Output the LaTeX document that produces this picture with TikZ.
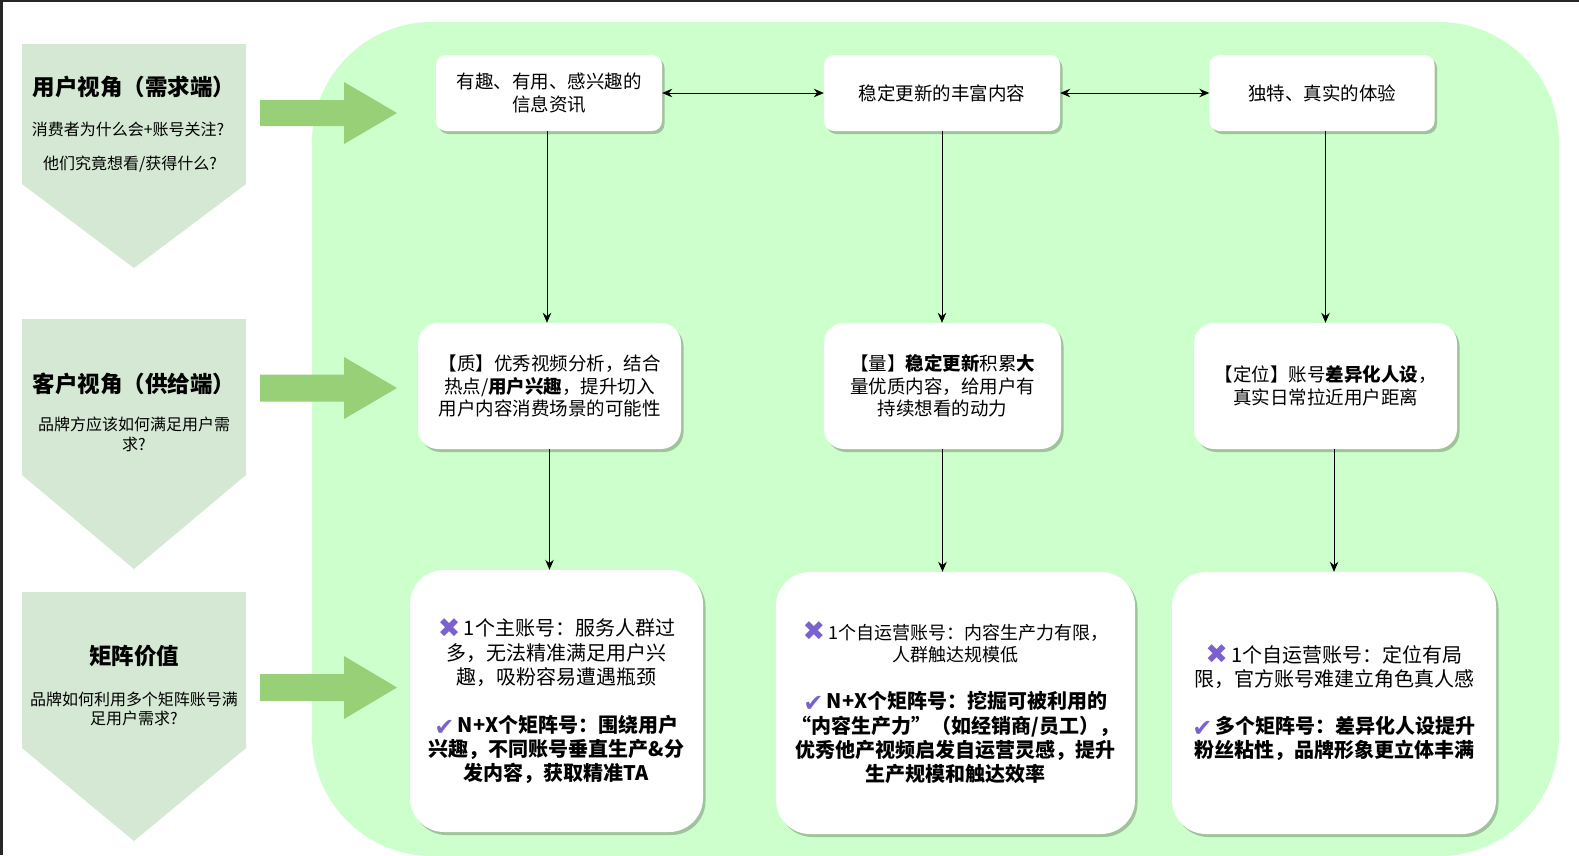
\documentclass[tikz,border=0pt]{standalone}
\usepackage{fontspec}
\setmainfont{Noto Sans CJK SC}
\newfontfamily\symfont{DejaVu Sans}
\usetikzlibrary{arrows.meta,shadows}
\definecolor{bigbg}{HTML}{CCFFCC}
\definecolor{panelc}{HTML}{D5E8D4}
\definecolor{garrow}{HTML}{97D077}
\definecolor{shadowc}{HTML}{9FC49B}
\definecolor{markc}{HTML}{7B61CF}
\newcommand{\myX}{{\symfont\fontsize{27}{27}\selectfont\color{markc}\raisebox{-1.5pt}{✖}}}
\newcommand{\myV}{{\symfont\fontsize{24}{24}\selectfont\color{markc}\raisebox{-3pt}{✔}}}
\tikzset{
  boxbase/.style={fill=white, draw=none, inner sep=0pt, align=center,
    drop shadow={shadow xshift=2.5pt, shadow yshift=-3pt, fill=shadowc, opacity=1}},
  topbox/.style={boxbase, rounded corners=10pt, minimum height=76pt,
    font=\fontsize{18.5}{22.4}\selectfont},
  midbox/.style={boxbase, rounded corners=20pt, minimum height=126pt,
    font=\fontsize{18.5}{22.6}\selectfont},
  lowbox/.style={boxbase, rounded corners=34pt, minimum height=262pt},
  conn/.style={line width=1pt, -{Stealth[length=10pt,width=8.5pt]}},
  dconn/.style={line width=1pt, {Stealth[length=10pt,width=8.5pt]}-{Stealth[length=10pt,width=8.5pt]}},
  ptitle/.style={font=\fontsize{22.5}{26}\selectfont\bfseries, inner sep=0pt},
  psub/.style={font=\fontsize{16}{19.5}\selectfont, align=center, inner sep=0pt},
}
\begin{document}
\begin{tikzpicture}[x=1pt,y=-1pt]
\useasboundingbox (0,0) rectangle (1579,855);
\fill[white] (0,0) rectangle (1579,855);
\fill[black!85] (0,0) rectangle (1579,1.5);
\fill[black!85] (0,0) rectangle (2.5,855);

% big green region
\fill[bigbg, rounded corners=120pt] (312,22) rectangle (1559,856);

% left panels
\fill[panelc] (22,44) -- (246,44) -- (246,184) -- (134,268) -- (22,184) -- cycle;
\fill[panelc] (22,319) -- (246,319) -- (246,475) -- (134,569) -- (22,475) -- cycle;
\fill[panelc] (22,592) -- (246,592) -- (246,748) -- (134,841) -- (22,748) -- cycle;

\node[ptitle] (t1) at (134,87) {用户视角（需求端）};
\node[psub] (s1a) at (128,129) {消费者为什么会+账号关注?};
\node[psub] (s1b) at (130,164) {他们究竟想看/获得什么?};

\node[ptitle] (t2) at (134,384) {客户视角（供给端）};
\node[psub] (s2) at (134,434.5) {品牌方应该如何满足用户需\\求?};

\node[ptitle] (t3) at (134,656) {矩阵价值};
\node[psub] (s3) at (134,709) {品牌如何利用多个矩阵账号满\\足用户需求?};

% green arrows
\fill[garrow] (260,100) -- (344,100) -- (344,82) -- (397,113) -- (344,144) -- (344,126) -- (260,126) -- cycle;
\fill[garrow] (260,374.5) -- (344,374.5) -- (344,357) -- (397,388) -- (344,419) -- (344,401.5) -- (260,401.5) -- cycle;
\fill[garrow] (260,674) -- (344,674) -- (344,656) -- (397,687.5) -- (344,719) -- (344,701) -- (260,701) -- cycle;

% top row
\node[topbox, minimum width=226pt] (A) at (549,93) {有趣、有用、感兴趣的\\信息资讯};
\node[topbox, minimum width=236pt] (B) at (942,93) {稳定更新的丰富内容};
\node[topbox, minimum width=225pt] (C) at (1322,93) {独特、真实的体验};

% middle row
\node[midbox, minimum width=263pt] (A2) at (549.5,386) {【质】优秀视频分析，结合\\热点/{\bfseries 用户兴趣}，提升切入\\用户内容消费场景的可能性};
\node[midbox, minimum width=237pt] (B2) at (942.5,386) {【量】{\bfseries 稳定更新}积累{\bfseries 大}\\量优质内容，给用户有\\持续想看的动力};
\node[midbox, minimum width=263pt] (C2) at (1325.5,386) {【定位】账号{\bfseries 差异化人设}，\\真实日常拉近用户距离};

% bottom row
\node[lowbox, minimum width=293pt, text width=290pt] (A3) at (556.5,701) {%
{\fontsize{20}{24.5}\selectfont\myX\,1个主账号：服务人群过\\多，无法精准满足用户兴\\趣，吸粉容易遭遇瓶颈\par}\vspace{23pt}%
{\fontsize{20}{24.2}\selectfont\bfseries\myV\,N+X个矩阵号：围绕用户\\兴趣，不同账号垂直生产\&分\\发内容，获取精准TA\par}};
\node[lowbox, minimum width=359pt, text width=355pt] (B3) at (955.5,703) {%
{\fontsize{18}{22.2}\selectfont\myX\,1个自运营账号：内容生产力有限，\\人群触达规模低\par}\vspace{23pt}%
{\fontsize{20}{24.3}\selectfont\bfseries\myV\,N+X个矩阵号：挖掘可被利用的\\“内容生产力”（如经销商/员工），\\优秀他产视频启发自运营灵感，提升\\生产规模和触达效率\par}};
\node[lowbox, minimum width=324pt, text width=320pt] (C3) at (1334,703) {%
{\fontsize{20}{24.2}\selectfont\myX\,1个自运营账号：定位有局\\限，官方账号难建立角色真人感\par}\vspace{23pt}%
{\fontsize{20}{24.2}\selectfont\bfseries\myV\,多个矩阵号：差异化人设提升\\粉丝粘性，品牌形象更立体丰满\par}};

% connectors
\draw[dconn] (A.east) -- (B.west);
\draw[dconn] (B.east) -- (C.west);
\draw[conn] ([xshift=-2pt]A.south) -- ([xshift=-2pt]A.south |- A2.north);
\draw[conn] (B.south) -- (B.south |- B2.north);
\draw[conn] (C2.north |- C.south) -- (C2.north);
\draw[conn] (A2.south) -- (A2.south |- A3.north);
\draw[conn] (B2.south) -- (B2.south |- B3.north);
\draw[conn] (C3.north |- C2.south) -- (C3.north);
\end{tikzpicture}
\end{document}
